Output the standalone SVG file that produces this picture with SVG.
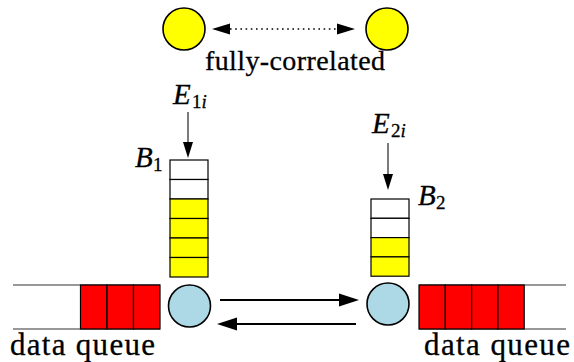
<svg xmlns="http://www.w3.org/2000/svg" width="574" height="362" viewBox="0 0 574 362">
  <style>
    text { font-family: 'Liberation Serif', 'Times New Roman', 'DejaVu Serif', serif; fill: #000; stroke: #000; stroke-width: 0.3; }
    .math { font-style: italic; }
    .sub { font-size: 19px; }
    .yellow { fill: #ffff00; stroke: #000; stroke-width: 1.6; }
    .server { fill: #add8e6; stroke: #000; stroke-width: 1.6; }
    .cellW { fill: #ffffff; stroke: #000; stroke-width: 1.2; }
    .cellY { fill: #ffff00; stroke: #000; stroke-width: 1.2; }
    .cellR { fill: #ff0000; stroke: #000; stroke-width: 1.2; }
    .rail { stroke: #333; stroke-width: 1.2; fill: none; }
    .thin { stroke: #222; stroke-width: 1.2; fill: none; }
    .thick { stroke: #000; stroke-width: 2.2; fill: none; }
    .dotted { stroke: #000; stroke-width: 1.3; stroke-dasharray: 1.6 3.6; fill: none; }
  </style>
  <defs>
    <marker id="headBig" markerUnits="userSpaceOnUse" viewBox="0 -7 20 14" markerWidth="20" markerHeight="14" refX="0" refY="0" orient="auto-start-reverse">
      <path d="M0,-6.5 L20,0 L0,6.5 z" fill="#000"/>
    </marker>
    <marker id="headDot" markerUnits="userSpaceOnUse" viewBox="0 -6 18 12" markerWidth="18" markerHeight="12" refX="0" refY="0" orient="auto-start-reverse">
      <path d="M0,-5.5 L18,0 L0,5.5 z" fill="#000"/>
    </marker>
    <marker id="headSmall" markerUnits="userSpaceOnUse" viewBox="0 -5 16 10" markerWidth="16" markerHeight="10" refX="0" refY="0" orient="auto">
      <path d="M0,-5 L16,0 L0,5 z" fill="#000"/>
    </marker>
  </defs>

  <!-- correlation legend -->
  <g id="corrA"><circle class="yellow" cx="184" cy="29" r="21"/></g>
  <g id="corrB"><circle class="yellow" cx="387" cy="29" r="21"/></g>
  <g id="corrLabel"><text x="205" y="70" font-size="28" textLength="180" lengthAdjust="spacing">fully-correlated</text></g>

  <!-- buffer B1 -->
  <g id="bufferB1">
    <rect class="cellW" x="170" y="160" width="38" height="19.5"/>
    <rect class="cellW" x="170" y="179.5" width="38" height="19.5"/>
    <rect class="cellY" x="170" y="199" width="38" height="19.5"/>
    <rect class="cellY" x="170" y="218.5" width="38" height="19.5"/>
    <rect class="cellY" x="170" y="238" width="38" height="19.5"/>
    <rect class="cellY" x="170" y="257.5" width="38" height="19.5"/>
    <text class="math" x="135" y="167" font-size="29">B</text>
    <text class="sub" x="153" y="171">1</text>
  </g>
  <g id="labelE1">
    <text class="math" x="173" y="104" font-size="29">E</text>
    <text class="sub" x="192" y="108">1<tspan font-style="italic">i</tspan></text>
  </g>

  <!-- buffer B2 -->
  <g id="bufferB2">
    <rect class="cellW" x="371" y="199" width="38" height="19.3"/>
    <rect class="cellW" x="371" y="218.3" width="38" height="19.3"/>
    <rect class="cellY" x="371" y="237.6" width="38" height="19.3"/>
    <rect class="cellY" x="371" y="256.9" width="38" height="19.3"/>
    <text class="math" x="418" y="205" font-size="29">B</text>
    <text class="sub" x="436" y="209">2</text>
  </g>
  <g id="labelE2">
    <text class="math" x="372" y="133" font-size="29">E</text>
    <text class="sub" x="391" y="137">2<tspan font-style="italic">i</tspan></text>
  </g>

  <!-- left data queue -->
  <g id="queueLeft">
    <line class="rail" x1="13" y1="285" x2="160" y2="285"/>
    <line class="rail" x1="13" y1="329" x2="160" y2="329"/>
    <rect class="cellR" x="80.5" y="285" width="26.5" height="44"/>
    <rect class="cellR" x="107" y="285" width="26.5" height="44"/>
    <rect class="cellR" x="133.5" y="285" width="26.5" height="44"/>
    <text x="10" y="355" font-size="31" textLength="145" lengthAdjust="spacing">data queue</text>
  </g>

  <!-- right data queue -->
  <g id="queueRight">
    <line class="rail" x1="419" y1="285" x2="566" y2="285"/>
    <line class="rail" x1="419" y1="329" x2="566" y2="329"/>
    <rect class="cellR" x="419" y="285" width="26.3" height="44"/>
    <rect class="cellR" x="445.3" y="285" width="26.3" height="44"/>
    <rect class="cellR" x="471.6" y="285" width="26.3" height="44"/>
    <rect class="cellR" x="497.9" y="285" width="26.3" height="44"/>
    <text x="424" y="355" font-size="31" textLength="146" lengthAdjust="spacing">data queue</text>
  </g>

  <!-- servers -->
  <g id="serverLeft"><circle class="server" cx="189.5" cy="306" r="21"/></g>
  <g id="serverRight"><circle class="server" cx="388" cy="304" r="21"/></g>

  <!-- connectors -->
  <g id="connectors">
    <line class="dotted" x1="230" y1="29" x2="337" y2="29" marker-start="url(#headDot)" marker-end="url(#headDot)"/>
    <line class="thin" x1="188" y1="112" x2="188" y2="142" marker-end="url(#headSmall)"/>
    <line class="thin" x1="388" y1="143" x2="388" y2="174" marker-end="url(#headSmall)"/>
    <line class="thick" x1="220" y1="300" x2="339" y2="300" marker-end="url(#headBig)"/>
    <line class="thick" x1="356" y1="324" x2="237" y2="324" marker-end="url(#headBig)"/>
  </g>
</svg>
